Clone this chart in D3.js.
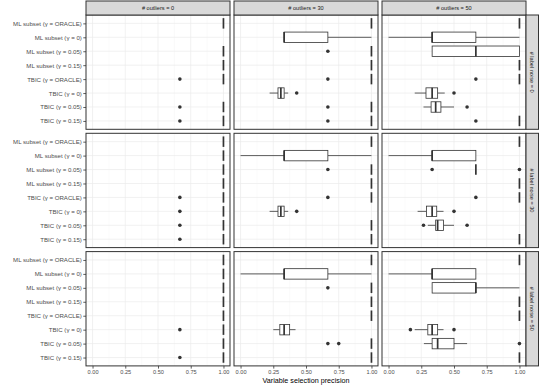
<!DOCTYPE html>
<html>
<head>
<meta charset="utf-8">
<script src="https://cdn.jsdelivr.net/npm/d3@7"></script>
<style>
body { margin: 0; background: #fff; }
svg { font-family: "Liberation Sans", Arial, sans-serif; }
.grid-major { stroke: #ebebeb; stroke-width: 0.7; }
.grid-minor { stroke: #f2f2f2; stroke-width: 0.4; }
.tick-label { fill: #4d4d4d; font-size: 5.6px; }
.strip-label { fill: #1a1a1a; font-size: 5.6px; }
</style>
</head>
<body>
<svg width="541" height="388"></svg>
<script>

// categories, top to bottom
var categories = [
  "ML subset (γ = ORACLE)", "ML subset (γ = 0)", "ML subset (γ = 0.05)", "ML subset (γ = 0.15)",
  "TBIC (γ = ORACLE)", "TBIC (γ = 0)", "TBIC (γ = 0.05)", "TBIC (γ = 0.15)"
];
var outlierCounts = [0, 30, 50];   // columns
var labelNoise = [0, 30, 50];      // rows
var xTicks = [0, 0.25, 0.5, 0.75, 1];

// boxes: label noise, # outliers, category index, lower whisker, q1, median, q3, upper whisker
var boxes = [
  [0, 0, 0, 1, 1, 1, 1, 1], [0, 0, 2, 1, 1, 1, 1, 1], [0, 0, 3, 1, 1, 1, 1, 1],
  [0, 0, 4, 1, 1, 1, 1, 1], [0, 0, 6, 1, 1, 1, 1, 1], [0, 0, 7, 1, 1, 1, 1, 1],

  [0, 30, 0, 1, 1, 1, 1, 1], [0, 30, 1, 0.333, 0.333, 0.333, 0.667, 1],
  [0, 30, 2, 1, 1, 1, 1, 1], [0, 30, 3, 1, 1, 1, 1, 1], [0, 30, 4, 1, 1, 1, 1, 1],
  [0, 30, 5, 0.222, 0.286, 0.308, 0.333, 0.364],
  [0, 30, 6, 1, 1, 1, 1, 1], [0, 30, 7, 1, 1, 1, 1, 1],

  [0, 50, 0, 1, 1, 1, 1, 1], [0, 50, 1, 0, 0.333, 0.333, 0.667, 1],
  [0, 50, 2, 0.333, 0.333, 0.667, 1, 1], [0, 50, 3, 1, 1, 1, 1, 1], [0, 50, 4, 1, 1, 1, 1, 1],
  [0, 50, 5, 0.2, 0.286, 0.333, 0.375, 0.429],
  [0, 50, 6, 0.267, 0.325, 0.36, 0.4, 0.5],
  [0, 50, 7, 1, 1, 1, 1, 1],

  [30, 0, 0, 1, 1, 1, 1, 1], [30, 0, 1, 1, 1, 1, 1, 1], [30, 0, 2, 1, 1, 1, 1, 1], [30, 0, 3, 1, 1, 1, 1, 1],
  [30, 0, 4, 1, 1, 1, 1, 1], [30, 0, 5, 1, 1, 1, 1, 1], [30, 0, 6, 1, 1, 1, 1, 1], [30, 0, 7, 1, 1, 1, 1, 1],

  [30, 30, 0, 1, 1, 1, 1, 1], [30, 30, 1, 0, 0.333, 0.333, 0.667, 1],
  [30, 30, 2, 1, 1, 1, 1, 1], [30, 30, 3, 1, 1, 1, 1, 1], [30, 30, 4, 1, 1, 1, 1, 1],
  [30, 30, 5, 0.222, 0.286, 0.308, 0.333, 0.364],
  [30, 30, 6, 1, 1, 1, 1, 1], [30, 30, 7, 1, 1, 1, 1, 1],

  [30, 50, 0, 1, 1, 1, 1, 1], [30, 50, 1, 0, 0.333, 0.333, 0.667, 0.667],
  [30, 50, 2, 0.667, 0.667, 0.667, 0.667, 0.667], [30, 50, 3, 1, 1, 1, 1, 1], [30, 50, 4, 1, 1, 1, 1, 1],
  [30, 50, 5, 0.222, 0.29, 0.333, 0.368, 0.42],
  [30, 50, 6, 0.3, 0.36, 0.375, 0.42, 0.5],
  [30, 50, 7, 1, 1, 1, 1, 1],

  [50, 0, 0, 1, 1, 1, 1, 1], [50, 0, 1, 1, 1, 1, 1, 1], [50, 0, 2, 1, 1, 1, 1, 1], [50, 0, 3, 1, 1, 1, 1, 1],
  [50, 0, 4, 1, 1, 1, 1, 1], [50, 0, 5, 1, 1, 1, 1, 1], [50, 0, 6, 1, 1, 1, 1, 1], [50, 0, 7, 1, 1, 1, 1, 1],

  [50, 30, 0, 1, 1, 1, 1, 1], [50, 30, 1, 0, 0.333, 0.333, 0.667, 1],
  [50, 30, 2, 1, 1, 1, 1, 1], [50, 30, 3, 1, 1, 1, 1, 1], [50, 30, 4, 1, 1, 1, 1, 1],
  [50, 30, 5, 0.25, 0.3, 0.333, 0.375, 0.42],
  [50, 30, 6, 1, 1, 1, 1, 1], [50, 30, 7, 1, 1, 1, 1, 1],

  [50, 50, 0, 1, 1, 1, 1, 1], [50, 50, 1, 0, 0.333, 0.333, 0.667, 0.667],
  [50, 50, 2, 0.333, 0.333, 0.667, 0.667, 1], [50, 50, 3, 1, 1, 1, 1, 1], [50, 50, 4, 1, 1, 1, 1, 1],
  [50, 50, 5, 0.2, 0.3, 0.333, 0.375, 0.42],
  [50, 50, 6, 0.27, 0.333, 0.375, 0.5, 0.6],
  [50, 50, 7, 1, 1, 1, 1, 1]
];

// outlying points: label noise, # outliers, category index, value
var points = [
  [0, 0, 4, 0.667], [0, 0, 6, 0.667], [0, 0, 7, 0.667],
  [0, 30, 2, 0.667], [0, 30, 4, 0.667], [0, 30, 5, 0.429], [0, 30, 6, 0.667], [0, 30, 7, 0.667],
  [0, 50, 4, 0.667], [0, 50, 5, 0.5], [0, 50, 6, 0.6], [0, 50, 7, 0.667],
  [30, 0, 4, 0.667], [30, 0, 5, 0.667], [30, 0, 6, 0.667], [30, 0, 7, 0.667],
  [30, 30, 2, 0.667], [30, 30, 4, 0.667], [30, 30, 5, 0.429],
  [30, 50, 2, 0.333], [30, 50, 2, 1], [30, 50, 4, 0.667], [30, 50, 5, 0.5], [30, 50, 6, 0.267], [30, 50, 6, 0.6],
  [50, 0, 5, 0.667], [50, 0, 7, 0.667],
  [50, 30, 2, 0.667], [50, 30, 6, 0.667], [50, 30, 6, 0.75],
  [50, 50, 5, 0.167], [50, 50, 5, 0.5], [50, 50, 6, 1]
];

var left = 86, topY = 15, panelW = 144, panelH = 114.3, gap = 4, stripH = 14, stripW = 12.5;
var ink = "#333333";

var svg = d3.select("svg");

var colX = outlierCounts.map((d, i) => left + i * (panelW + gap));
var rowY = labelNoise.map((d, i) => topY + i * (panelH + gap));

function xScale(ci) {
  return d3.scaleLinear().domain([-0.05, 1.05]).range([colX[ci], colX[ci] + panelW]);
}
function yScale(ri) {
  return d3.scalePoint().domain(d3.range(categories.length)).range([rowY[ri], rowY[ri] + panelH]).padding(0.6);
}

labelNoise.forEach(function (noise, ri) {
  outlierCounts.forEach(function (outl, ci) {
    var x = xScale(ci), y = yScale(ri);
    var bh = y.step() * 0.75;
    var g = svg.append("g");

    g.append("rect").attr("x", colX[ci]).attr("y", rowY[ri])
      .attr("width", panelW).attr("height", panelH).attr("fill", "#fff");

    // minor grid
    var minor = d3.range(-0.125, 1.2, 0.25).filter(v => x(v) > colX[ci] && x(v) < colX[ci] + panelW);
    g.selectAll(".grid-minor").data(minor).enter().append("line")
      .attr("class", "grid-minor")
      .attr("x1", d => x(d)).attr("x2", d => x(d))
      .attr("y1", rowY[ri]).attr("y2", rowY[ri] + panelH);
    g.selectAll(".gx").data(xTicks).enter().append("line")
      .attr("class", "grid-major")
      .attr("x1", d => x(d)).attr("x2", d => x(d))
      .attr("y1", rowY[ri]).attr("y2", rowY[ri] + panelH);
    g.selectAll(".gy").data(y.domain()).enter().append("line")
      .attr("class", "grid-major")
      .attr("x1", colX[ci]).attr("x2", colX[ci] + panelW)
      .attr("y1", d => y(d)).attr("y2", d => y(d));

    var bx = boxes.filter(b => b[0] === noise && b[1] === outl);
    bx.forEach(function (b) {
      var cy = y(b[2]);
      g.append("line").attr("x1", x(b[3])).attr("x2", x(b[4]))
        .attr("y1", cy).attr("y2", cy).attr("stroke", ink).attr("stroke-width", 0.8);
      g.append("line").attr("x1", x(b[6])).attr("x2", x(b[7]))
        .attr("y1", cy).attr("y2", cy).attr("stroke", ink).attr("stroke-width", 0.8);
      g.append("rect").attr("x", x(b[4])).attr("y", cy - bh / 2)
        .attr("width", x(b[6]) - x(b[4])).attr("height", bh)
        .attr("fill", "#fff").attr("stroke", ink).attr("stroke-width", 0.8);
      g.append("line").attr("x1", x(b[5])).attr("x2", x(b[5]))
        .attr("y1", cy - bh / 2).attr("y2", cy + bh / 2)
        .attr("stroke", ink).attr("stroke-width", 1.7);
    });

    var pts = points.filter(p => p[0] === noise && p[1] === outl);
    g.selectAll("circle").data(pts).enter().append("circle")
      .attr("cx", d => x(d[3])).attr("cy", d => y(d[2]))
      .attr("r", 1.8).attr("fill", ink);

    g.append("rect").attr("x", colX[ci]).attr("y", rowY[ri])
      .attr("width", panelW).attr("height", panelH)
      .attr("fill", "none").attr("stroke", ink).attr("stroke-width", 1);

    // top strip
    if (ri === 0) {
      g.append("rect").attr("x", colX[ci]).attr("y", topY - stripH)
        .attr("width", panelW).attr("height", stripH)
        .attr("fill", "#d9d9d9").attr("stroke", ink).attr("stroke-width", 1);
      g.append("text").attr("class", "strip-label")
        .attr("x", colX[ci] + panelW / 2).attr("y", topY - stripH / 2)
        .attr("text-anchor", "middle").attr("dy", "0.35em")
        .text("# outliers = " + outl);
    }
    // right strip
    if (ci === outlierCounts.length - 1) {
      var sx = colX[ci] + panelW;
      g.append("rect").attr("x", sx).attr("y", rowY[ri])
        .attr("width", stripW).attr("height", panelH)
        .attr("fill", "#d9d9d9").attr("stroke", ink).attr("stroke-width", 1);
      g.append("text").attr("class", "strip-label")
        .attr("transform", "translate(" + (sx + stripW / 2) + "," + (rowY[ri] + panelH / 2) + ") rotate(90)")
        .attr("text-anchor", "middle").attr("dy", "0.35em")
        .text("# label noise = " + noise);
    }
    // y axis
    if (ci === 0) {
      var ya = svg.append("g").attr("transform", "translate(" + colX[0] + ",0)")
        .call(d3.axisLeft(y).tickSize(2.7).tickPadding(1.5).tickFormat(i => categories[i]));
      ya.select(".domain").remove();
      ya.selectAll("line").attr("stroke", ink).attr("stroke-width", 0.8);
      ya.selectAll("text").attr("class", "tick-label").attr("font-size", null)
        .attr("font-family", null).style("font-size", "6.1px");
    }
    // x axis
    if (ri === labelNoise.length - 1) {
      var xa = svg.append("g").attr("transform", "translate(0," + (rowY[ri] + panelH) + ")")
        .call(d3.axisBottom(x).tickValues(xTicks).tickSize(2.7).tickPadding(1.5).tickFormat(d3.format(".2f")));
      xa.select(".domain").remove();
      xa.selectAll("line").attr("stroke", ink).attr("stroke-width", 0.8);
      xa.selectAll("text").attr("class", "tick-label").attr("font-size", null).attr("font-family", null);
    }
  });
});

svg.append("text")
  .attr("x", left + (3 * panelW + 2 * gap) / 2).attr("y", 383)
  .attr("text-anchor", "middle").attr("fill", "#000").style("font-size", "7.2px")
  .text("Variable selection precision");

</script>
</body>
</html>
